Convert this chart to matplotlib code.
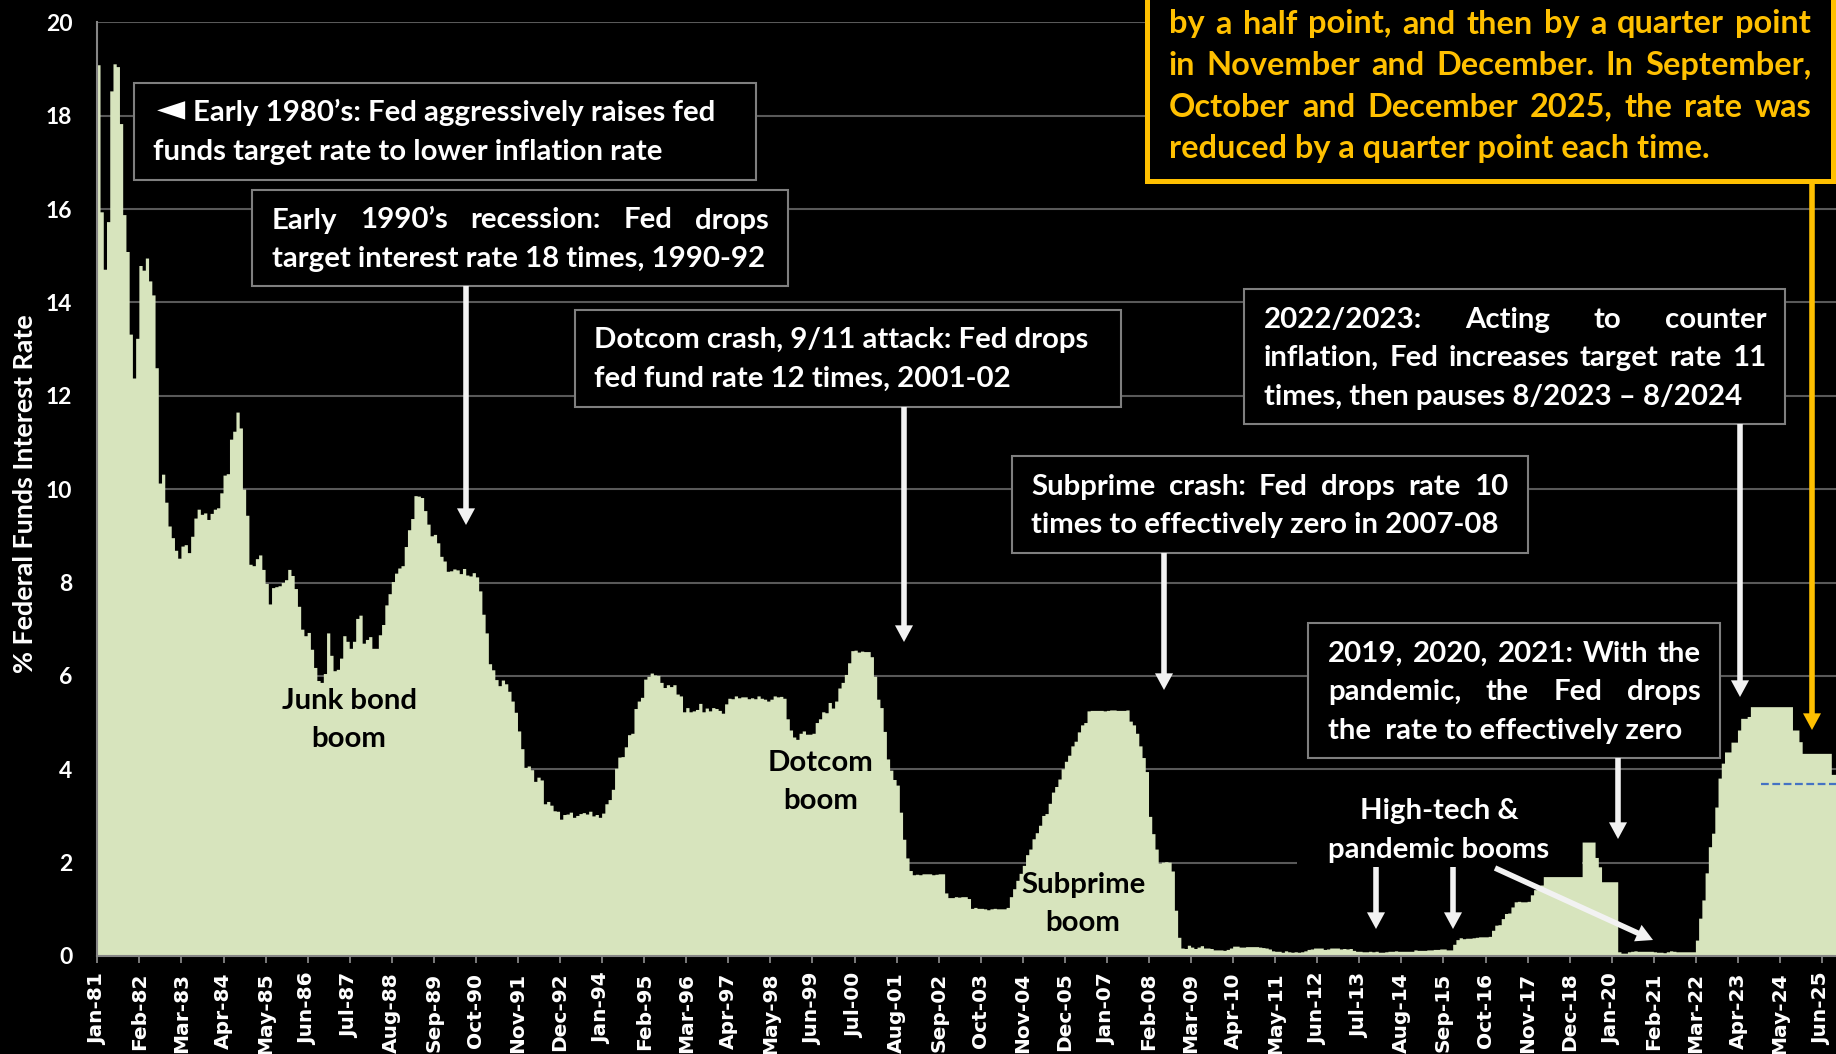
import numpy as np
import matplotlib
matplotlib.use("Agg")
import matplotlib.pyplot as plt
from matplotlib.patches import Rectangle, FancyArrowPatch

# ---------------------------------------------------------------------------
# Monthly federal funds rate, % (Jan 1981 onward)
# ---------------------------------------------------------------------------
r1981 = [19.08, 15.93, 14.70, 15.72, 18.52, 19.10, 19.04, 17.82, 15.87, 15.08, 13.31, 12.37]
r1982 = [13.22, 14.78, 14.68, 14.94, 14.45, 14.15, 12.59, 10.12, 10.31, 9.71, 9.20, 8.95]
r1983 = [8.68, 8.51, 8.77, 8.80, 8.63, 8.98, 9.37, 9.56, 9.45, 9.48, 9.34, 9.47]
r1984 = [9.56, 9.59, 9.91, 10.29, 10.32, 11.06, 11.23, 11.64, 11.30, 9.99, 9.43, 8.38]
r1985 = [8.35, 8.50, 8.58, 8.27, 7.97, 7.53, 7.88, 7.90, 7.92, 7.99, 8.05, 8.27]
r1986 = [8.14, 7.86, 7.48, 6.99, 6.85, 6.92, 6.56, 6.17, 5.89, 5.85, 6.04, 6.91]
r1987 = [6.43, 6.10, 6.13, 6.37, 6.85, 6.73, 6.58, 6.73, 7.22, 7.29, 6.69, 6.77]
r1988 = [6.83, 6.58, 6.58, 6.87, 7.09, 7.51, 7.75, 8.01, 8.19, 8.30, 8.35, 8.76]
r1989 = [9.12, 9.36, 9.85, 9.84, 9.81, 9.53, 9.24, 8.99, 9.02, 8.84, 8.55, 8.45]
r1990 = [8.23, 8.24, 8.28, 8.26, 8.18, 8.29, 8.15, 8.13, 8.20, 8.11, 7.81, 7.31]
r1991 = [6.91, 6.25, 6.12, 5.91, 5.78, 5.90, 5.82, 5.66, 5.45, 5.21, 4.81, 4.43]
r1992 = [4.03, 4.06, 3.98, 3.73, 3.82, 3.76, 3.25, 3.30, 3.22, 3.10, 3.09, 2.92]
r1993 = [3.02, 3.03, 3.07, 2.96, 3.00, 3.04, 3.06, 3.03, 3.09, 2.99, 3.02, 2.96]
r1994 = [3.05, 3.25, 3.34, 3.56, 4.01, 4.25, 4.26, 4.47, 4.73, 4.76, 5.29, 5.45]
r1995 = [5.53, 5.92, 5.98, 6.05, 6.01, 6.00, 5.85, 5.74, 5.80, 5.76, 5.80, 5.60]
r1996 = [5.56, 5.22, 5.31, 5.22, 5.24, 5.27, 5.40, 5.22, 5.30, 5.24, 5.31, 5.29]
r1997 = [5.25, 5.19, 5.39, 5.51, 5.50, 5.56, 5.52, 5.54, 5.54, 5.50, 5.52, 5.50]
r1998 = [5.56, 5.51, 5.49, 5.45, 5.49, 5.56, 5.54, 5.55, 5.51, 5.07, 4.83, 4.68]
r1999 = [4.63, 4.76, 4.81, 4.74, 4.74, 4.76, 4.99, 5.07, 5.22, 5.20, 5.42, 5.30]
r2000 = [5.45, 5.73, 5.85, 6.02, 6.27, 6.53, 6.54, 6.50, 6.52, 6.51, 6.51, 6.40]
r2001 = [5.98, 5.49, 5.31, 4.80, 4.21, 3.97, 3.77, 3.65, 3.07, 2.49, 2.09, 1.82]
r2002 = [1.73, 1.74, 1.73, 1.75, 1.75, 1.75, 1.73, 1.74, 1.75, 1.75, 1.34, 1.24]
r2003 = [1.24, 1.26, 1.25, 1.26, 1.26, 1.22, 1.01, 1.03, 1.01, 1.01, 1.00, 0.98]
r2004 = [1.00, 1.01, 1.00, 1.00, 1.00, 1.03, 1.26, 1.43, 1.61, 1.76, 1.93, 2.16]
r2005 = [2.28, 2.50, 2.63, 2.79, 3.00, 3.04, 3.26, 3.50, 3.62, 3.78, 4.00, 4.16]
r2006 = [4.29, 4.49, 4.59, 4.79, 4.94, 4.99, 5.24, 5.25, 5.25, 5.25, 5.25, 5.24]
r2007 = [5.25, 5.26, 5.26, 5.25, 5.25, 5.25, 5.26, 5.02, 4.94, 4.76, 4.49, 4.24]
r2008 = [3.94, 2.98, 2.61, 2.28, 1.98, 2.00, 2.01, 2.00, 1.81, 0.97, 0.39, 0.16]
r2009 = [0.15, 0.22, 0.18, 0.15, 0.18, 0.21, 0.16, 0.16, 0.15, 0.12, 0.12, 0.12]
r2010 = [0.11, 0.13, 0.16, 0.20, 0.20, 0.18, 0.18, 0.19, 0.19, 0.19, 0.19, 0.18]
r2011 = [0.17, 0.16, 0.14, 0.10, 0.09, 0.09, 0.07, 0.10, 0.08, 0.07, 0.08, 0.07]
r2012 = [0.08, 0.10, 0.13, 0.14, 0.16, 0.16, 0.16, 0.13, 0.14, 0.16, 0.16, 0.16]
r2013 = [0.14, 0.15, 0.14, 0.15, 0.11, 0.09, 0.09, 0.08, 0.08, 0.09, 0.08, 0.09]
r2014 = [0.07, 0.07, 0.08, 0.09, 0.09, 0.10, 0.09, 0.09, 0.09, 0.09, 0.09, 0.12]
r2015 = [0.11, 0.11, 0.11, 0.12, 0.12, 0.13, 0.13, 0.14, 0.14, 0.12, 0.12, 0.24]
r2016 = [0.34, 0.38, 0.36, 0.37, 0.37, 0.38, 0.39, 0.40, 0.40, 0.40, 0.41, 0.54]
r2017 = [0.65, 0.66, 0.79, 0.90, 0.91, 1.04, 1.15, 1.16, 1.15, 1.15, 1.16, 1.30]
r2018 = [1.41, 1.42, 1.51, 1.69, 1.69, 1.69, 1.69, 1.69, 1.69, 1.69, 1.69, 1.69]
r2019 = [1.69, 1.69, 1.69, 2.43, 2.43, 2.43, 2.43, 2.10, 1.90, 1.58, 1.58, 1.58]
r2020 = [1.58, 1.58, 0.08, 0.05, 0.05, 0.08, 0.09, 0.10, 0.09, 0.09, 0.09, 0.09]
r2021 = [0.09, 0.08, 0.07, 0.07, 0.06, 0.08, 0.10, 0.09, 0.08, 0.08, 0.08, 0.08]
r2022 = [0.08, 0.08, 0.33, 0.80, 1.19, 1.77, 2.33, 2.62, 3.18, 3.80, 4.12, 4.36]
r2023 = [4.36, 4.57, 4.57, 4.83, 5.08, 5.08, 5.12, 5.33, 5.33, 5.33, 5.33, 5.33]
r2024 = [5.33, 5.33, 5.33, 5.33, 5.33, 5.33, 5.33, 5.33, 4.83, 4.83, 4.58, 4.33]
r2025 = [4.33, 4.33, 4.33, 4.33, 4.33, 4.33, 4.33, 4.33, 3.88, 3.88]

current_target = 3.68          # dashed reference level
current_target_from = 514      # month index where the dashed level starts

tick_labels = ["Jan-81", "Feb-82", "Mar-83", "Apr-84", "May-85", "Jun-86", "Jul-87",
               "Aug-88", "Sep-89", "Oct-90", "Nov-91", "Dec-92", "Jan-94", "Feb-95",
               "Mar-96", "Apr-97", "May-98", "Jun-99", "Jul-00", "Aug-01", "Sep-02",
               "Oct-03", "Nov-04", "Dec-05", "Jan-07", "Feb-08", "Mar-09", "Apr-10",
               "May-11", "Jun-12", "Jul-13", "Aug-14", "Sep-15", "Oct-16", "Nov-17",
               "Dec-18", "Jan-20", "Feb-21", "Mar-22", "Apr-23", "May-24", "Jun-25"]
tick_step = 13

rates = np.array(r1981 + r1982 + r1983 + r1984 + r1985 + r1986 + r1987 + r1988 + r1989
                 + r1990 + r1991 + r1992 + r1993 + r1994 + r1995 + r1996 + r1997 + r1998
                 + r1999 + r2000 + r2001 + r2002 + r2003 + r2004 + r2005 + r2006 + r2007
                 + r2008 + r2009 + r2010 + r2011 + r2012 + r2013 + r2014 + r2015 + r2016
                 + r2017 + r2018 + r2019 + r2020 + r2021 + r2022 + r2023 + r2024 + r2025)

# ---------------------------------------------------------------------------
# Layout (pixels) and styling
# ---------------------------------------------------------------------------
W, H, DPI = 1836, 1054, 100
AX_LEFT, AX_ZERO, AX_TOP = 97.3, 956.0, 22.3
MONTH_PX = 3.236

FILL = "#D7E4BD"
GRID = "#595959"
AXIS = "#868686"
BOX_EDGE = "#7F7F7F"
ARROW = "#F2F2F2"
GOLD = "#FFC000"
FONT = ["Lato", "DejaVu Sans"]
BOX_SIZE = 21.2
GOLD_SIZE = 23.4

fig = plt.figure(figsize=(W / DPI, H / DPI), dpi=DPI, facecolor="black")
ax = fig.add_axes([AX_LEFT / W, 1 - AX_ZERO / H, 1 - AX_LEFT / W, (AX_ZERO - AX_TOP) / H])
ax.set_facecolor("black")

edges = np.arange(len(rates) + 1)
ax.stairs(rates, edges, fill=True, color=FILL, baseline=0, linewidth=0, zorder=2)
ax.hlines(current_target, current_target_from, len(rates) + 5, colors="#4472C4",
          linestyles=(0, (3.5, 1.6)), linewidth=1.6, zorder=3)

ax.set_xlim(0, (W - AX_LEFT) / MONTH_PX)
ax.set_ylim(0, 20)
ax.set_yticks(np.arange(0, 21, 2))
ax.set_axisbelow(True)
ax.grid(axis="y", color=GRID, linewidth=1.5)
ax.grid(axis="x", visible=False)

ticks = np.arange(len(tick_labels)) * tick_step
ax.set_xticks(ticks)
ax.set_xticklabels(tick_labels, rotation=90, fontsize=14.5, fontweight="bold",
                   family="DejaVu Sans", color="white")
ax.tick_params(axis="x", length=5, width=1.3, color=AXIS, pad=7)
ax.tick_params(axis="y", length=0, pad=18)
for lab in ax.get_yticklabels():
    lab.set_fontfamily(FONT)
    lab.set_fontweight("bold")
    lab.set_fontsize(16.5)
    lab.set_color("white")

for side in ("top", "right"):
    ax.spines[side].set_visible(False)
for side in ("left", "bottom"):
    ax.spines[side].set_color(AXIS)
    ax.spines[side].set_linewidth(1.5)
    ax.spines[side].set_zorder(4)

fig.text(25 / W, 1 - 494 / H, "% Federal Funds Interest Rate", rotation=90,
         ha="center", va="center", fontsize=19.4, fontweight="bold", family=FONT, color="white")

# ---------------------------------------------------------------------------
# Annotation helpers (positions in figure pixels, y measured from the top)
# ---------------------------------------------------------------------------
renderer = fig.canvas.get_renderer()


def fx(x):
    return x / W


def fy(y):
    return 1 - y / H


def text_width(s, size):
    t = fig.text(0, 0, s, fontsize=size, fontweight="bold", family=FONT)
    w = t.get_window_extent(renderer=renderer).width
    t.remove()
    return w


def put(x, y, s, size, color, ha="left"):
    fig.text(fx(x), fy(y), s, fontsize=size, fontweight="bold", family=FONT,
             color=color, ha=ha, va="baseline", zorder=6)


def paragraph(lines, left, right, first_base, step, size, color, justify):
    for k, line in enumerate(lines):
        base = first_base + k * step
        words = line.split()
        if justify and k < len(lines) - 1 and len(words) > 1:
            widths = [text_width(w, size) for w in words]
            gap = (right - left - sum(widths)) / (len(words) - 1)
            x = left
            for w, wd in zip(words, widths):
                put(x, base, w, size, color)
                x += wd + gap
        else:
            put(left, base, line, size, color)


def box(x0, y0, x1, y1, edge=BOX_EDGE, lw=1.5):
    fig.add_artist(Rectangle((fx(x0), fy(y1)), (x1 - x0) / W, (y1 - y0) / H,
                             transform=fig.transFigure, facecolor="black",
                             edgecolor=edge, linewidth=lw, zorder=5))


def arrow(x0, y0, x1, y1, color=ARROW):
    fig.add_artist(FancyArrowPatch((fx(x0), fy(y0)), (fx(x1), fy(y1)),
                                   transform=fig.transFigure,
                                   arrowstyle="simple,head_length=12,head_width=13,tail_width=4",
                                   mutation_scale=1, color=color, linewidth=0,
                                   shrinkA=0, shrinkB=0, zorder=7))


STEP = 38.5

# Early 1980s
box(134, 83, 756, 180)
fig.text(fx(157), fy(83 + STEP - 1), "\u25C4", fontsize=BOX_SIZE * 1.25,
         family=["DejaVu Sans"], color="white", ha="left", va="baseline", zorder=6)
put(193, 83 + STEP, "Early 1980\u2019s: Fed aggressively raises fed", BOX_SIZE, "white")
put(153, 83 + 2 * STEP, "funds target rate to lower inflation rate", BOX_SIZE, "white")

# Early 1990s
box(252, 190, 788, 286)
paragraph(["Early 1990\u2019s recession: Fed drops",
           "target interest rate 18 times, 1990-92"],
          272, 769, 190 + STEP, STEP, BOX_SIZE, "white", justify=True)
arrow(466, 286, 466, 525)

# Dotcom crash
box(575, 310, 1121, 407)
paragraph(["Dotcom crash, 9/11 attack: Fed drops",
           "fed fund rate 12 times, 2001-02"],
          594, 1101, 310 + STEP, STEP, BOX_SIZE, "white", justify=False)
arrow(904, 407, 904, 642)

# Subprime crash
box(1012, 456, 1528, 553)
paragraph(["Subprime crash: Fed drops rate 10",
           "times to effectively zero in 2007-08"],
          1031, 1508, 456 + STEP, STEP, BOX_SIZE, "white", justify=True)
arrow(1164, 553, 1164, 690)

# 2022/2023 hikes
box(1244, 289, 1785, 424)
paragraph(["2022/2023: Acting to counter",
           "inflation, Fed increases target rate 11",
           "times, then pauses 8/2023 \u2013 8/2024"],
          1264, 1766, 289 + STEP, STEP, BOX_SIZE, "white", justify=True)
arrow(1740, 424, 1740, 697)

# Pandemic cuts
box(1308, 623, 1720, 758)
paragraph(["2019, 2020, 2021: With the",
           "pandemic, the Fed drops",
           "the  rate to effectively zero"],
          1328, 1701, 623 + STEP, STEP, BOX_SIZE, "white", justify=True)
arrow(1618, 758, 1618, 839)

# 2024/2025 cuts (gold)
box(1147, -60, 1833, 181, edge=GOLD, lw=3.6)
paragraph(["by a half point, and then by a quarter point",
           "in November and December. In September,",
           "October and December 2025, the rate was",
           "reduced by a quarter point each time."],
          1169, 1811, 33.5, 41.6, GOLD_SIZE, GOLD, justify=True)
arrow(1812, 181, 1812, 730, color=GOLD)

# Boom labels inside the filled area
put(349, 709, "Junk bond", BOX_SIZE, "black", ha="center")
put(349, 747, "boom", BOX_SIZE, "black", ha="center")
put(821, 771, "Dotcom", BOX_SIZE, "black", ha="center")
put(821, 809, "boom", BOX_SIZE, "black", ha="center")
put(1083, 893, "Subprime", BOX_SIZE, "black", ha="center")
put(1083, 931, "boom", BOX_SIZE, "black", ha="center")

# High-tech & pandemic booms label on its own black panel
ax.add_patch(Rectangle((fx(1297), fy(871)), (1582 - 1297) / W, (871 - 786) / H,
                       transform=fig.transFigure, facecolor="black", linewidth=0,
                       zorder=1.5, clip_on=False))
put(1439, 819, "High-tech &", BOX_SIZE, "white", ha="center")
put(1439, 858, "pandemic booms", BOX_SIZE, "white", ha="center")
arrow(1376, 867, 1376, 929)
arrow(1453, 867, 1453, 929)
arrow(1495, 868, 1653, 940)

fig.savefig("out.png", dpi=DPI, facecolor="black")
